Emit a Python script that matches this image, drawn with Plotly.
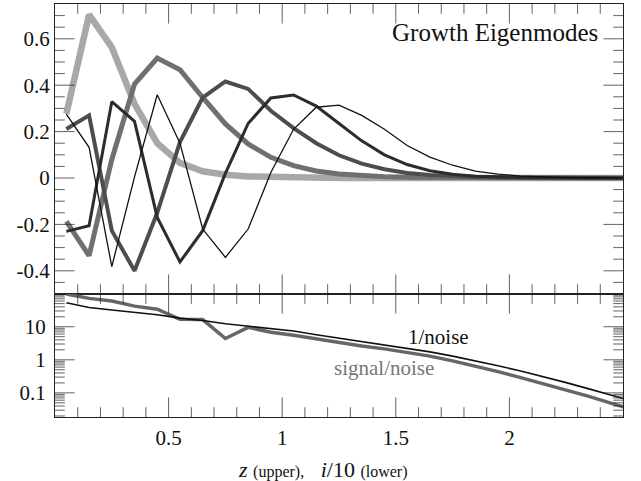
import plotly.graph_objects as go

# ---- data -------------------------------------------------------------
z = [0.05, 0.15, 0.25, 0.35, 0.45, 0.55, 0.65, 0.75, 0.85, 0.95,
     1.05, 1.15, 1.25, 1.35, 1.45, 1.55, 1.65, 1.75, 1.85, 1.95,
     2.05, 2.15, 2.25, 2.35, 2.45, 2.55]

mode_1 = [0.277, 0.704, 0.563, 0.320, 0.150, 0.065, 0.029, 0.014, 0.007, 0.004,
          0.002, 0.001, 0.0005, 0, 0, 0, 0, 0, 0, 0, 0, 0, 0, 0, 0, 0]
mode_2 = [-0.187, -0.335, 0.080, 0.405, 0.517, 0.467, 0.347, 0.233, 0.147, 0.089,
          0.053, 0.030, 0.017, 0.010, 0.005, 0.003, 0.002, 0.001, 0, 0, 0, 0, 0, 0, 0, 0]
mode_3 = [0.211, 0.270, -0.227, -0.400, -0.150, 0.155, 0.347, 0.416, 0.384, 0.290,
          0.215, 0.150, 0.098, 0.062, 0.038, 0.022, 0.013, 0.007, 0.004, 0.002,
          0.001, 0, 0, 0, 0, 0]
mode_4 = [-0.230, -0.206, 0.329, 0.244, -0.170, -0.362, -0.227, 0.020, 0.235, 0.345,
          0.358, 0.310, 0.235, 0.160, 0.100, 0.058, 0.031, 0.016, 0.008, 0.004,
          0.002, 0.001, 0, 0, 0, 0]
mode_5 = [0.275, 0.132, -0.382, 0.005, 0.359, 0.150, -0.220, -0.342, -0.220, 0.024,
          0.210, 0.305, 0.314, 0.270, 0.210, 0.140, 0.090, 0.055, 0.030, 0.017,
          0.008, 0.004, 0.002, 0.001, 0, 0]

inv_noise = [53, 38, 32, 27.5, 23, 18.2, 15.5, 12.3, 10.5, 8.9,
             7.4, 5.75, 4.57, 3.55, 2.88, 2.24, 1.74, 1.29, 0.93, 0.66,
             0.457, 0.309, 0.204, 0.132, 0.085, 0.054]
signal_noise = [98, 72, 60, 42, 34, 16.7, 16.5, 4.4, 9.6, 6.8,
                5.5, 4.27, 3.39, 2.63, 2.14, 1.70, 1.29, 0.93, 0.65, 0.44,
                0.29, 0.19, 0.123, 0.078, 0.048, 0.030]

# ---- tick values / labels ----------------------------------------------
top_tickvals = [-0.4, -0.2, 0, 0.2, 0.4, 0.6]
top_ticktext = ["-0.4", "-0.2", "0", "0.2", "0.4", "0.6"]
top_minor = [-0.45, -0.35, -0.3, -0.25, -0.15, -0.1, -0.05, 0.05, 0.1, 0.15,
             0.25, 0.3, 0.35, 0.45, 0.5, 0.55, 0.65, 0.7]
bot_tickvals = [0.1, 1, 10]
bot_ticktext = ["0.1", "1", "10"]
bot_minor = [0.02, 0.03, 0.04, 0.05, 0.06, 0.07, 0.08, 0.09,
             0.2, 0.3, 0.4, 0.5, 0.6, 0.7, 0.8, 0.9,
             2, 3, 4, 5, 6, 7, 8, 9,
             20, 30, 40, 50, 60, 70, 80, 90]
x_tickvals = [0.5, 1, 1.5, 2]
x_ticktext = ["0.5", "1", "1.5", "2"]
x_minor = [0.1, 0.2, 0.3, 0.4, 0.6, 0.7, 0.8, 0.9, 1.1, 1.2, 1.3, 1.4,
           1.6, 1.7, 1.8, 1.9, 2.1, 2.2, 2.3, 2.4]

X_RANGE = [0, 2.5]
TOP_RANGE = [-0.5, 0.75]
BOT_RANGE = [-1.73, 1.99]          # log10 units

# ---- styles -----------------------------------------------------------
FONT = "Liberation Serif, Times New Roman, Times, serif"
TICKC = "#222"
MAJ, MIN = 14, 7                    # tick lengths in px
modes = [
    (mode_1, "#a8a8a8", 6.5),
    (mode_2, "#707070", 5.0),
    (mode_3, "#4d4d4d", 4.0),
    (mode_4, "#2c2c2c", 3.0),
    (mode_5, "#111111", 1.3),
]

fig = go.Figure()
for vals, col, w in modes:
    fig.add_trace(go.Scatter(x=z, y=vals, mode="lines", xaxis="x", yaxis="y",
                             line=dict(color=col, width=w), showlegend=False,
                             hoverinfo="skip"))
fig.add_trace(go.Scatter(x=z, y=signal_noise, mode="lines", xaxis="x2", yaxis="y2",
                         line=dict(color="#666666", width=3.5), showlegend=False,
                         hoverinfo="skip"))
fig.add_trace(go.Scatter(x=z, y=inv_noise, mode="lines", xaxis="x2", yaxis="y2",
                         line=dict(color="#111111", width=1.6), showlegend=False,
                         hoverinfo="skip"))


# inward tick marks: line markers centred on the frame, clipped to the plot area
def tick_trace(xa, ya, along, edges, major, minor, vertical):
    pos, size = [], []
    for _ in edges:
        pos += major + minor
        size += [2 * MAJ] * len(major) + [2 * MIN] * len(minor)
    other = [e for e in edges for _ in range(len(major) + len(minor))]
    xs, ys = (pos, other) if vertical else (other, pos)
    return go.Scatter(x=xs, y=ys, xaxis=xa, yaxis=ya, mode="markers",
                      marker=dict(symbol="line-ns" if vertical else "line-ew",
                                  size=size, color=TICKC,
                                  line=dict(width=1, color=TICKC)),
                      showlegend=False, hoverinfo="skip", cliponaxis=True)


bot_edges = [10 ** BOT_RANGE[0], 10 ** BOT_RANGE[1]]
fig.add_trace(tick_trace("x", "y", "x", TOP_RANGE, x_tickvals, x_minor, True))
fig.add_trace(tick_trace("x", "y", "y", X_RANGE, top_tickvals, top_minor, False))
fig.add_trace(tick_trace("x2", "y2", "x", bot_edges, x_tickvals, x_minor, True))
fig.add_trace(tick_trace("x2", "y2", "y", X_RANGE, bot_tickvals, bot_minor, False))

split = 123 / 413
TF = dict(family=FONT, size=21, color="#111")
base = dict(showline=True, linecolor="#222", linewidth=1.2, mirror=True,
            ticks="", showgrid=False, zeroline=False, tickfont=TF,
            automargin=False)

fig.update_layout(
    width=641, height=481,
    margin=dict(l=55, r=18, t=4, b=64, autoexpand=False),
    paper_bgcolor="white", plot_bgcolor="white",
    xaxis=dict(domain=[0, 1], anchor="y", range=X_RANGE, showticklabels=False,
               **base),
    yaxis=dict(domain=[split, 1], anchor="x", range=TOP_RANGE,
               tickmode="array", tickvals=top_tickvals, ticktext=top_ticktext,
               ticklabelstandoff=0, **base),
    xaxis2=dict(domain=[0, 1], anchor="y2", range=X_RANGE,
                tickmode="array", tickvals=x_tickvals, ticktext=x_ticktext,
                ticklabelstandoff=2, **base),
    yaxis2=dict(domain=[0, split], anchor="x2", type="log", range=BOT_RANGE,
                tickmode="array", tickvals=bot_tickvals, ticktext=bot_ticktext,
                ticklabelstandoff=4, **base),
)

fig.add_annotation(x=1.937, y=0.626, xref="x", yref="y", text="Growth Eigenmodes",
                   showarrow=False, font=dict(family=FONT, size=25, color="#111"))
fig.add_annotation(x=1.686, y=0.704, xref="x2", yref="y2", text="1/noise",
                   showarrow=False, font=dict(family=FONT, size=21, color="#111"))
fig.add_annotation(x=1.448, y=-0.249, xref="x2", yref="y2", text="signal/noise",
                   showarrow=False, font=dict(family=FONT, size=21, color="#777"))
fig.add_annotation(
    x=0.472, y=-0.128, xref="paper", yref="paper", yanchor="middle", showarrow=False,
    text=("<i>z</i> <span style='font-size:16px'>(upper),</span>&nbsp;&nbsp;&nbsp;"
          "<i>i</i>/10 <span style='font-size:16px'>(lower)</span>"),
    font=dict(family=FONT, size=22, color="#111"))

fig.write_html("out.html", config={"displayModeBar": False},
               post_script="document.body.style.margin='0';")
